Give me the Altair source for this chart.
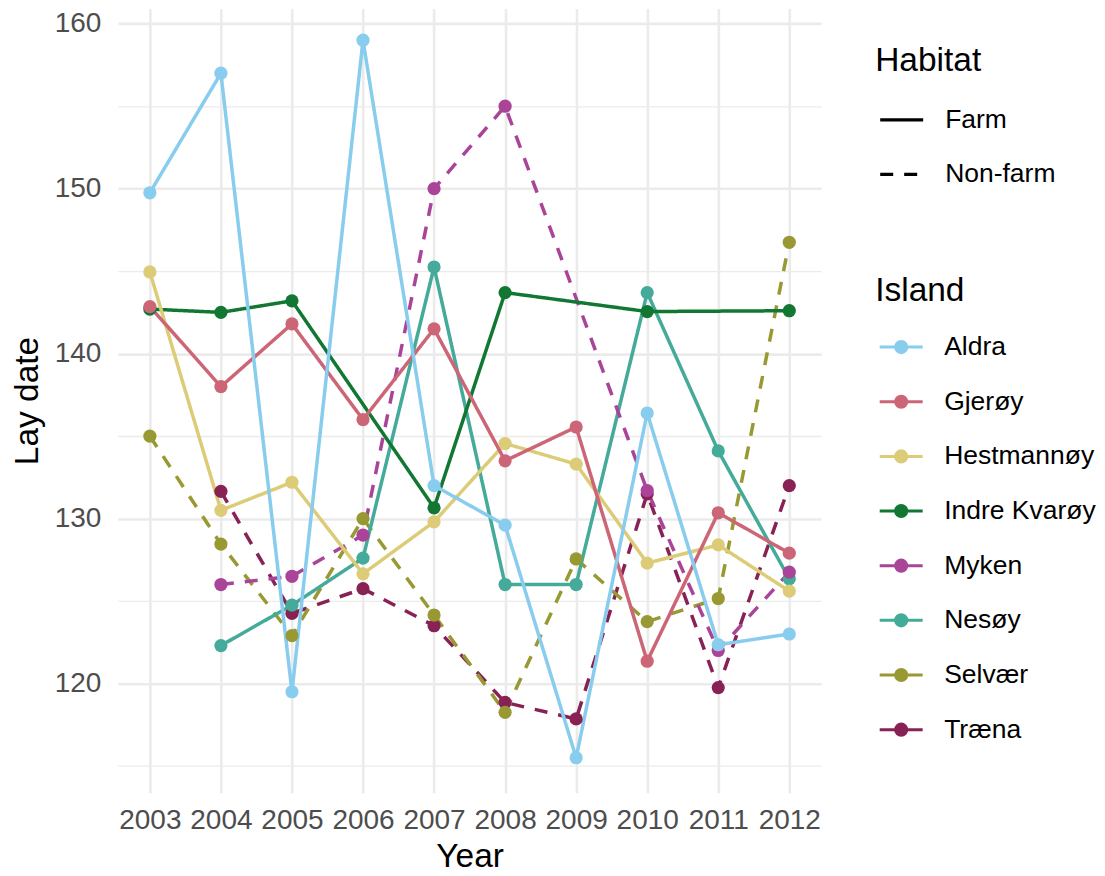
import altair as alt
import pandas as pd

years = [2003, 2004, 2005, 2006, 2007, 2008, 2009, 2010, 2011, 2012]
islands = ["Aldra", "Gjerøy", "Hestmannøy", "Indre Kvarøy", "Myken", "Nesøy", "Selvær", "Træna"]
habitats = ["Farm", "Farm", "Farm", "Farm", "Non-farm", "Farm", "Non-farm", "Non-farm"]
colors = ["#88CCEE", "#CC6677", "#DDCC77", "#117733", "#AA4499", "#44AA99", "#999933", "#882255"]

aldra = [149.75, 157.0, 119.5, 159.0, 132.0, 129.6, 115.5, 136.4, 122.35, 123.0]
gjeroy = [142.85, 138.0, 141.8, 136.0, 141.5, 133.5, 135.55, 121.35, 130.35, 127.9]
hestmannoy = [144.95, 130.5, 132.2, 126.65, 129.8, 134.55, 133.3, 127.3, 128.4, 125.6]
indre_kvaroy = [142.7, 142.5, 143.2, None, 130.65, 143.7, None, 142.55, None, 142.6]
myken = [None, 126.0, 126.5, 129.0, 150.0, 155.0, None, 131.7, 122.0, 126.75]
nesoy = [None, 122.3, 124.75, 127.6, 145.25, 126.0, 126.0, 143.7, 134.1, 126.35]
selvaer = [135.0, 128.45, 122.9, 130.0, 124.15, 118.25, 127.55, 123.75, 125.15, 146.75]
traena = [None, 131.65, 124.25, 125.75, 123.5, 118.85, 117.85, 131.5, 119.75, 132.0]

series = [aldra, gjeroy, hestmannoy, indre_kvaroy, myken, nesoy, selvaer, traena]

x_ticks = [2003, 2003.5, 2004, 2004.5, 2005, 2005.5, 2006, 2006.5, 2007, 2007.5,
           2008, 2008.5, 2009, 2009.5, 2010, 2010.5, 2011, 2011.5, 2012]
y_ticks = [115, 120, 125, 130, 135, 140, 145, 150, 155, 160]

rows = []
# drawn in reverse island order (later islands underneath)
for isl, hab, vals in reversed(list(zip(islands, habitats, series))):
    for yr, v in zip(years, vals):
        if v is not None:
            rows.append({"Year": yr, "Lay date": v, "Island": isl, "Habitat": hab})
df = pd.DataFrame(rows)

FONT = "Liberation Sans"
AXIS_LABEL_SIZE = 28
LEGEND_LABEL_SIZE = 26.5
TITLE_SIZE = 33.5
GRID = "#EBEBEB"

x_scale = alt.Scale(domain=[2002.55, 2012.45], nice=False, zero=False)
y_scale = alt.Scale(domain=[113.38, 160.93], nice=False, zero=False)

x_axis = alt.Axis(
    values=x_ticks, format="d", title="Year",
    labelExpr="datum.value % 1 === 0 ? datum.label : ''",
    gridWidth={"condition": {"test": "datum.value % 1 !== 0", "value": 1.3}, "value": 2.6},
    labelOverlap=False, labelFlush=False, labelPadding=14,
    titlePadding=6,
)
y_axis = alt.Axis(
    values=y_ticks, format="d", title="Lay date",
    labelExpr="datum.value % 10 === 0 ? datum.label : ''",
    gridWidth={"condition": {"test": "datum.value % 10 !== 0", "value": 1.3}, "value": 2.6},
    labelOverlap=False, labelFlush=False, labelPadding=17,
    titlePadding=10,
)

circle_d = "M{r},0 A{r},{r} 0 1,1 -{r},0 A{r},{r} 0 1,1 {r},0 Z"
island_symbol = "M-1,0 L1,0 " + " ".join(circle_d.format(r=r) for r in [0.26, 0.17, 0.08])

color_scale = alt.Scale(domain=islands, range=colors)
island_legend = alt.Legend(
    title="Island", orient="none", legendX=758, legendY=267,
    symbolType=island_symbol, symbolSize=1849, symbolStrokeWidth=3,
    symbolOffset=3, labelOffset=20, rowPadding=17.7, titlePadding=15.5,
    symbolOpacity=1,
)
habitat_legend = alt.Legend(
    title="Habitat", orient="none", legendX=758, legendY=37,
    symbolType="stroke", symbolSize=1849, symbolStrokeWidth=3.2,
    symbolStrokeColor="black", symbolOffset=3, labelOffset=20,
    rowPadding=17.7, titlePadding=17.5,
)

base = alt.Chart(df)

lines = base.mark_line(strokeWidth=3.5, strokeCap="butt").encode(
    x=alt.X("Year:Q", scale=x_scale, axis=x_axis),
    y=alt.Y("Lay date:Q", scale=y_scale, axis=y_axis),
    color=alt.Color("Island:N", scale=color_scale, legend=island_legend),
    strokeDash=alt.StrokeDash(
        "Habitat:N",
        scale=alt.Scale(domain=["Farm", "Non-farm"], range=[[1, 0], [13, 11]]),
        legend=habitat_legend,
    ),
    detail="Island:N",
)

points = base.mark_circle(size=175, opacity=1).encode(
    x=alt.X("Year:Q", scale=x_scale, axis=x_axis),
    y=alt.Y("Lay date:Q", scale=y_scale, axis=y_axis),
    color=alt.Color("Island:N", scale=color_scale, legend=island_legend),
)

chart = alt.layer(lines, points).properties(
    width=704, height=785,
    autosize=alt.AutoSizeParams(type="none"),
    padding={"left": 110, "top": 0, "right": 276, "bottom": 80},
).configure(
    font=FONT,
).configure_view(
    stroke=None,
).configure_axis(
    domain=False, ticks=False, tickSize=0,
    gridColor=GRID,
    labelFont=FONT, labelFontSize=AXIS_LABEL_SIZE, labelColor="#4D4D4D",
    titleFont=FONT, titleFontSize=TITLE_SIZE, titleFontWeight="normal", titleColor="black",
).configure_legend(
    labelFont=FONT, labelFontSize=LEGEND_LABEL_SIZE, labelColor="black",
    titleFont=FONT, titleFontSize=TITLE_SIZE, titleFontWeight="normal", titleColor="black",
    padding=0,
)

chart.save("out.html", embed_options={"renderer": "svg", "actions": False})
